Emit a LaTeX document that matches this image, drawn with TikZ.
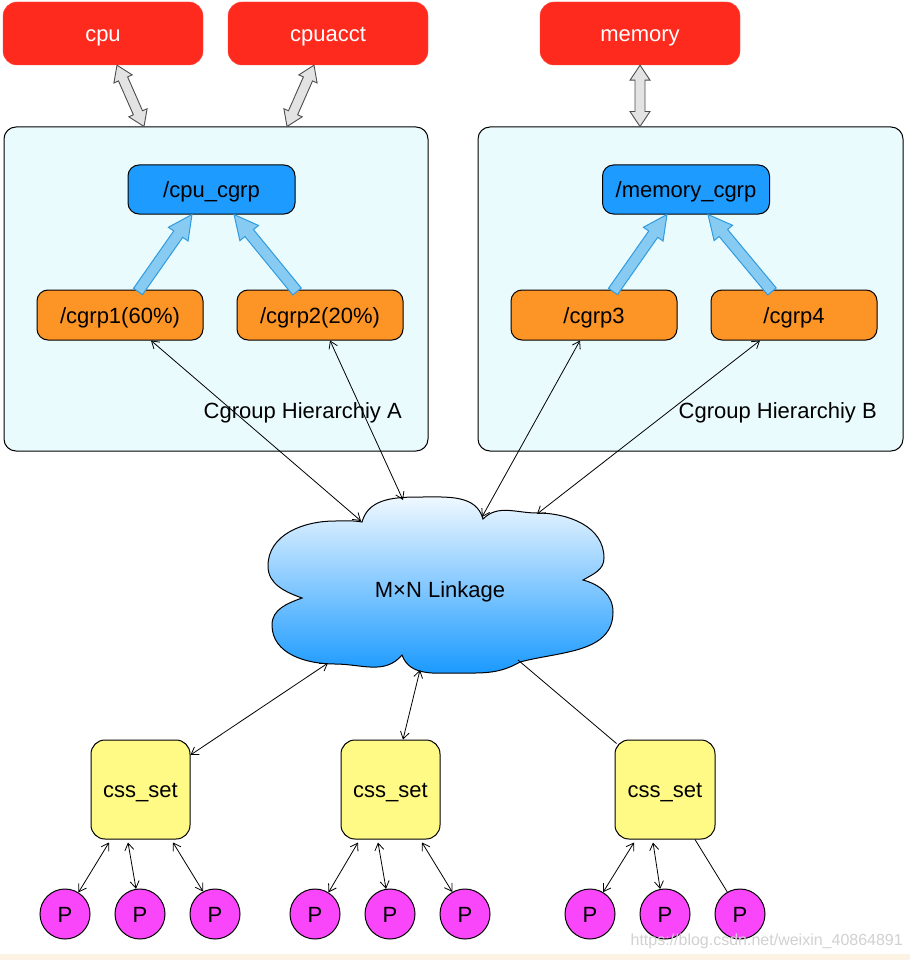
\documentclass[tikz,border=0pt]{standalone}
\usepackage{fontspec}
\setmainfont{Liberation Sans}
\usetikzlibrary{arrows.meta,calc}
\definecolor{cred}{RGB}{254,42,30}
\definecolor{ccont}{RGB}{234,251,254}
\definecolor{cblue}{RGB}{30,155,255}
\definecolor{corange}{RGB}{253,148,38}
\definecolor{cyellow}{RGB}{255,250,133}
\definecolor{cmag}{RGB}{250,70,250}
\definecolor{cgrayfill}{RGB}{227,227,227}
\definecolor{cgrayline}{RGB}{77,77,77}
\definecolor{cbluearr}{RGB}{136,203,242}
\definecolor{cbluearrline}{RGB}{47,155,224}
\definecolor{ccloudtop}{RGB}{242,249,255}
\definecolor{ccloudbot}{RGB}{22,152,255}
\definecolor{ccream}{RGB}{252,243,228}
\newcommand\dfont{\fontsize{22}{26}\selectfont}
\newcommand\dblblock[3][]{%
 \coordinate (qa) at ($(#2)!15pt!(#3)$);
 \coordinate (qb) at ($(#3)!15pt!(#2)$);
 \draw[#1] (#2) -- ($(qa)!10pt!90:(#3)$) -- ($(qa)!5pt!90:(#3)$) -- ($(qb)!5pt!-90:(#2)$) -- ($(qb)!10pt!-90:(#2)$) -- (#3) -- ($(qb)!10pt!90:(#2)$) -- ($(qb)!5pt!90:(#2)$) -- ($(qa)!5pt!-90:(#3)$) -- ($(qa)!10pt!-90:(#3)$) -- cycle;}
\newcommand\sblock[3][]{%
 \coordinate (qh) at ($(#3)!24pt!(#2)$);
 \draw[#1] ($(#2)!5.5pt!90:(#3)$) -- ($(qh)!5.5pt!-90:(#2)$) -- ($(qh)!12pt!-90:(#2)$) -- (#3) -- ($(qh)!12pt!90:(#2)$) -- ($(qh)!5.5pt!90:(#2)$) -- ($(#2)!5.5pt!-90:(#3)$) -- cycle;}
\tikzset{
 txt/.style={font=\dfont, text height=20pt, text depth=4pt, inner sep=0pt},
 redbox/.style={txt, fill=cred, draw=cred!85!white, rounded corners=14pt, minimum width=200pt, minimum height=63pt, text=white},
 contbox/.style={fill=ccont, draw=black, line width=1pt, rounded corners=12pt, minimum height=324pt, inner sep=0pt},
 bluebox/.style={txt, fill=cblue, draw=black, line width=1pt, rounded corners=11pt, minimum width=167pt, minimum height=49pt},
 orbox/.style={txt, fill=corange, draw=black, line width=1pt, rounded corners=11pt, minimum width=166pt, minimum height=50pt},
 cssbox/.style={txt, fill=cyellow, draw=black, line width=1pt, rounded corners=14pt, minimum width=99pt, minimum height=99pt},
 pcirc/.style={txt, circle, fill=cmag, draw=black, line width=1pt, minimum size=50pt},
 grayarr/.style={fill=cgrayfill, draw=cgrayline, line width=0.9pt, line join=miter},
 bluearr/.style={fill=cbluearr, draw=cbluearrline, line width=1pt, line join=miter},
 link/.style={draw=black, line width=0.8pt, arrows={Straight Barb[length=7pt,width=9pt]-Straight Barb[length=7pt,width=9pt]}},
 plainlink/.style={draw=black, line width=0.8pt},
 lbl/.style={txt},
}
\begin{document}
\begin{tikzpicture}[x=1pt,y=-1pt]
\useasboundingbox (0,0) rectangle (910,960);
\fill[white] (0,0) rectangle (910,960);
\fill[ccream] (0,954) rectangle (910,960);

% top subsystems
\node[redbox] (cpu) at (103,33.5) {cpu};
\node[redbox] (cpuacct) at (328,33.5) {cpuacct};
\node[redbox] (memory) at (640,33.5) {memory};

% containers
\node[contbox, minimum width=424pt] (contA) at (216,289) {};
\node[contbox, minimum width=425pt] (contB) at (690.5,289) {};

% cgroup nodes
\node[bluebox] (cpucg) at (211.5,189.5) {/cpu\_cgrp};
\node[orbox] (g1) at (120,315) {/cgrp1(60\%)};
\node[orbox] (g2) at (320,315) {/cgrp2(20\%)};
\node[bluebox] (memcg) at (686,189.5) {/memory\_cgrp};
\node[orbox] (g3) at (594,315) {/cgrp3};
\node[orbox] (g4) at (794,315) {/cgrp4};

\node[lbl, anchor=east] (labA) at (402,410) {Cgroup Hierarchiy A};
\node[lbl, anchor=east] (labB) at (877,410) {Cgroup Hierarchiy B};

% gray double block arrows
\coordinate (ga1) at ([xshift=14pt]cpu.south);
\coordinate (ga2) at ([xshift=-72pt]contA.north);
\coordinate (gb1) at ([xshift=-14pt]cpuacct.south);
\coordinate (gb2) at ([xshift=71pt]contA.north);
\coordinate (gc1) at (memory.south);
\coordinate (gc2) at ([xshift=-50.5pt]contB.north);
\dblblock[grayarr]{ga2}{ga1}
\dblblock[grayarr]{gb2}{gb1}
\dblblock[grayarr]{gc2}{gc1}

% blue block arrows
\coordinate (ba1) at ([xshift=18pt,yshift=-2pt]g1.north);
\coordinate (ba2) at ([xshift=-19.5pt]cpucg.south);
\coordinate (bb1) at ([xshift=-23pt,yshift=-2pt]g2.north);
\coordinate (bb2) at ([xshift=22.5pt]cpucg.south);
\coordinate (bc1) at ([xshift=19pt,yshift=-2pt]g3.north);
\coordinate (bc2) at ([xshift=-19pt]memcg.south);
\coordinate (bd1) at ([xshift=-22pt,yshift=-2pt]g4.north);
\coordinate (bd2) at ([xshift=22pt]memcg.south);
\sblock[bluearr]{ba1}{ba2}
\sblock[bluearr]{bb1}{bb2}
\sblock[bluearr]{bc1}{bc2}
\sblock[bluearr]{bd1}{bd2}

% cloud
\path[draw=black, line width=1pt, top color=ccloudtop, bottom color=ccloudbot]
 (362,522) to[out=75,in=180] (422,497) to[out=0,in=105] (483,519)
 to[out=45,in=180] (537,513) to[out=0,in=90] (604,558) to[out=-90,in=30] (583,580)
 to[out=-15,in=90] (613,612) to[out=-90,in=15] (520,662)
 to[out=-150,in=0] (458,673) to[out=180,in=-70] (402,655)
 to[out=-130,in=0] (335,664) to[out=180,in=-90] (272,625) to[out=90,in=-160] (302,598)
 to[out=160,in=-90] (268,566) to[out=90,in=180] (335,521) to[out=0,in=170] (362,522) -- cycle;
\node[lbl] (cloud) at (440,589) {M×N Linkage};
\coordinate (c1) at (361,521);
\coordinate (c2) at (403,500);
\coordinate (c3) at (482,517);
\coordinate (c4) at (537,514);
\coordinate (c5) at (328,663);
\coordinate (c6) at (420,670);
\coordinate (c7) at (518,660);

% links hierarchy - cloud
\draw[link] ([xshift=31pt]g1.south) -- (c1);
\draw[link] ([xshift=10pt]g2.south) -- (c2);
\draw[link] ([xshift=-14pt]g3.south) -- (c3);
\draw[link] ([xshift=-34pt]g4.south) -- (c4);

% css sets
\node[cssbox] (css1) at (140.5,789.5) {css\_set};
\node[cssbox] (css2) at (390.5,789.5) {css\_set};
\node[cssbox, minimum width=100pt] (css3) at (665,789.5) {css\_set};

\draw[link] (c5) -- ([yshift=34.5pt]css1.east);
\draw[link] (c6) -- ([xshift=12.5pt]css2.north);
\draw[plainlink] (c7) -- ([xshift=2pt,yshift=-4pt]css3.north west);

% processes
\node[pcirc] (p1) at (65,914) {P};
\node[pcirc] (p2) at (140,914) {P};
\node[pcirc] (p3) at (215,914) {P};
\node[pcirc] (p4) at (315,914) {P};
\node[pcirc] (p5) at (390,914) {P};
\node[pcirc] (p6) at (465,914) {P};
\node[pcirc] (p7) at (590,914) {P};
\node[pcirc] (p8) at (665,914) {P};
\node[pcirc] (p9) at (740,914) {P};

\draw[link] ([xshift=-31.5pt,yshift=-3pt]css1.south) -- (p1.58);
\draw[link] ([xshift=-12.5pt,yshift=-3pt]css1.south) -- (p2.99);
\draw[link] ([xshift=32.5pt,yshift=-3pt]css1.south) -- (p3.118);
\draw[link] ([xshift=-32.5pt,yshift=-3pt]css2.south) -- (p4.58);
\draw[link] ([xshift=-12.5pt,yshift=-3pt]css2.south) -- (p5.99);
\draw[link] ([xshift=31.5pt,yshift=-3pt]css2.south) -- (p6.120);
\draw[link] ([xshift=-31pt,yshift=-3pt]css3.south) -- (p7.59);
\draw[link] ([xshift=-12pt,yshift=-3pt]css3.south) -- (p8.101);
\draw[plainlink] ([xshift=30pt]css3.south) -- (p9.120);

% watermark
\node[inner sep=0pt, text=black!18, font=\fontsize{16}{18}\selectfont, anchor=east] (wm) at (903,941) {https://blog.csdn.net/weixin\_40864891};
\end{tikzpicture}
\end{document}
